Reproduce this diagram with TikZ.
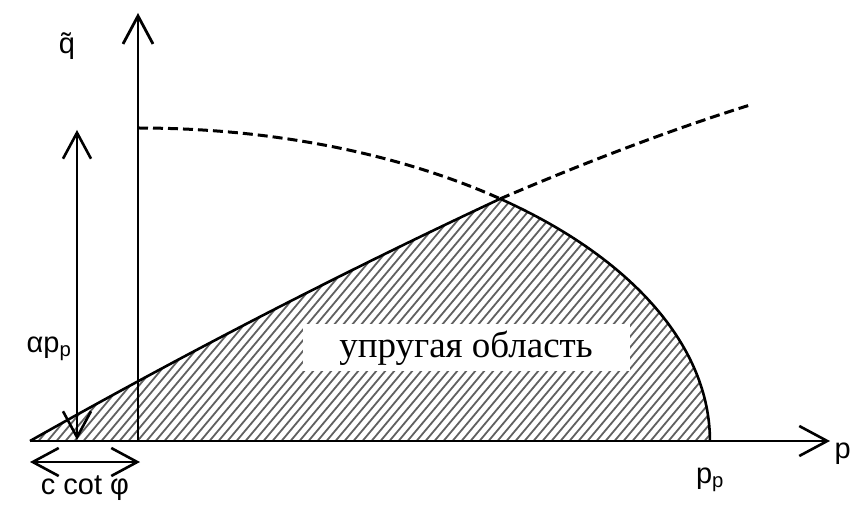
\documentclass[tikz,border=0pt]{standalone}
\usepackage{fontspec}
\setmainfont{Liberation Serif}
\newfontfamily\lsans{Liberation Sans}
\usetikzlibrary{arrows.meta}
\begin{document}
\begin{tikzpicture}[x=1pt,y=1pt,
  axis/.style={line width=2.6pt, -{Straight Barb[length=28pt,width=30pt]}},
  dbl/.style={line width=2.6pt, {Straight Barb[length=26pt,width=28pt]}-{Straight Barb[length=26pt,width=28pt]}},
  curve/.style={line width=2.6pt},
  dashcurve/.style={line width=3pt, dash pattern=on 10pt off 5pt},
  hatch/.style={line width=1.8pt, black!62},
  lbl/.style={font=\lsans\fontsize{29}{32}\selectfont, inner sep=0pt},
  boxlbl/.style={fill=white, minimum width=327pt, minimum height=47pt, inner sep=0pt,
    font=\fontsize{37}{40}\selectfont}]
\useasboundingbox (0,0) rectangle (852,504);
% key points
\coordinate (O) at (138,63);
\coordinate (apex) at (30,63);
\coordinate (xend) at (830,63);
\coordinate (yend) at (138,491);
\coordinate (peak) at (500.2,305.2);
\coordinate (capend) at (710,63);
\coordinate (captop) at (138,376);
\coordinate (dend) at (750,399);
\coordinate (aTop) at (77,374);
\coordinate (aBot) at (77,64);
\coordinate (cL) at (30,42);
\coordinate (cR) at (140,42);
% hatched elastic region
\begin{scope}
  \clip (apex) .. controls (187.3,151.7) and (344.1,232.4) .. (peak)
    arc[start angle=50.7, end angle=0, x radius=572pt, y radius=313pt] -- cycle;
  \foreach \i in {-22,...,80} \draw[hatch] (\i*9,60) -- ++(50:340);
\end{scope}
% label box
\node[boxlbl] (region) at (466,156) {упругая область};
% yield surfaces
\draw[curve] (apex) .. controls (187.3,151.7) and (344.1,232.4) .. (peak);
\draw[curve] (peak) arc[start angle=50.7, end angle=0, x radius=572pt, y radius=313pt];
\draw[dashcurve] (captop) arc[start angle=90, end angle=50.7, x radius=572pt, y radius=313pt];
\draw[dashcurve] (peak) .. controls (590.1,343.7) and (673.3,375) .. (dend);
% axes
\draw[axis] (apex) -- (xend);
\draw[axis, line width=2.8pt] (O) -- (yend);
% dimension arrows
\draw[dbl] (aBot) -- (aTop);
\draw[dbl] (cL) -- (cR);
% labels
\node[lbl] (qt) at (67,458) {\~{q}};
\node[lbl] (ap) at (49,155) {αp\textsubscript{p}};
\node[lbl] (cc) at (85,16) {c cot φ};
\node[lbl] (pp) at (710,24) {p\textsubscript{p}};
\node[lbl, anchor=east] (p) at (851,50) {p};
\end{tikzpicture}
\end{document}
